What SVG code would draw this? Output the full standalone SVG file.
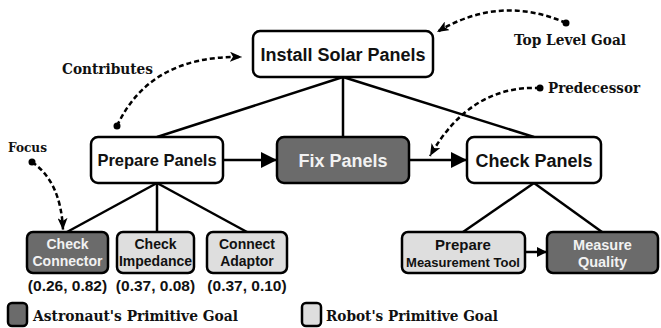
<svg xmlns="http://www.w3.org/2000/svg" width="661" height="328" viewBox="0 0 661 328">
<defs>
<style>
.box{stroke:#000;stroke-width:2.5}
.w{fill:#fff}
.d{fill:#6b6b6b}
.l{fill:#dedede}
.t{font-family:"Liberation Sans",Arial,sans-serif;font-weight:bold;text-anchor:middle;fill:#111}
.tw{font-family:"Liberation Sans",Arial,sans-serif;font-weight:bold;text-anchor:middle;fill:#f2f2f2}
.s{font-family:"DejaVu Serif",serif;font-weight:bold;fill:#111}
.ln{stroke:#000;stroke-width:2.5;fill:none}
.ds{stroke:#000;stroke-width:2.5;fill:none;stroke-dasharray:5 3}
</style>
<marker id="big" viewBox="0 0 16 16" refX="16" refY="8" markerWidth="16" markerHeight="16" markerUnits="userSpaceOnUse" orient="auto"><path d="M0,0 L16,8 L0,16 Z" fill="#000"/></marker>
<marker id="sm" viewBox="0 0 10 10" refX="10" refY="5" markerWidth="10" markerHeight="10" markerUnits="userSpaceOnUse" orient="auto"><path d="M0,0 L10,5 L0,10 Z" fill="#000"/></marker>
<marker id="da" viewBox="0 0 12 10" refX="12" refY="5" markerWidth="12" markerHeight="10" markerUnits="userSpaceOnUse" orient="auto"><path d="M0,0 L12,5 L0,10 L3,5 Z" fill="#000"/></marker>
</defs>
<g id="connectors">
<line class="ln" x1="343" y1="77" x2="157" y2="137"/>
<line class="ln" x1="343" y1="77" x2="343" y2="137"/>
<line class="ln" x1="343" y1="77" x2="534" y2="137"/>
<line class="ln" x1="157" y1="183" x2="67" y2="232"/>
<line class="ln" x1="157" y1="183" x2="157" y2="232"/>
<line class="ln" x1="157" y1="183" x2="247" y2="232"/>
<line class="ln" x1="534" y1="183" x2="463" y2="232"/>
<line class="ln" x1="534" y1="183" x2="602" y2="232"/>
<line class="ln" x1="223" y1="160" x2="277" y2="160" marker-end="url(#big)"/>
<line class="ln" x1="409" y1="160" x2="467" y2="160" marker-end="url(#big)"/>
<line class="ln" x1="525" y1="252" x2="547" y2="252" marker-end="url(#sm)"/>
<path class="ds" d="M566,23 Q500,-6 437,32" marker-end="url(#da)"/>
<path class="ds" d="M117,126 Q150,55 242,57" marker-end="url(#da)"/>
<path class="ds" d="M540,88 Q470,85 430,156" marker-end="url(#da)"/>
<path class="ds" d="M32,162 Q61,182 63,230" marker-end="url(#da)"/>
<circle cx="566" cy="23" r="3.5" fill="#000"/>
<circle cx="117" cy="126" r="3.5" fill="#000"/>
<circle cx="540" cy="88" r="3.5" fill="#000"/>
<circle cx="32" cy="162" r="3.5" fill="#000"/>
</g>
<g id="install">
<rect class="box w" x="253" y="31" width="180" height="46" rx="7"/>
<text class="t" x="343" y="60.5" font-size="18">Install Solar Panels</text>
</g>
<g id="prepare">
<rect class="box w" x="91" y="137" width="132" height="46" rx="7"/>
<text class="t" x="157" y="166" font-size="16.5">Prepare Panels</text>
</g>
<g id="fix">
<rect class="box d" x="277" y="137" width="132" height="46" rx="7"/>
<text class="tw" x="343" y="166.5" font-size="18">Fix Panels</text>
</g>
<g id="check">
<rect class="box w" x="467" y="137" width="134" height="46" rx="7"/>
<text class="t" x="534" y="166.5" font-size="18">Check Panels</text>
</g>
<g id="checkConnector">
<rect class="box d" x="27" y="232" width="81" height="41" rx="6"/>
<text class="tw" font-size="14"><tspan x="67.5" y="249">Check</tspan><tspan x="67.5" y="266">Connector</tspan></text>
</g>
<g id="checkImpedance">
<rect class="box l" x="117" y="232" width="77" height="41" rx="6"/>
<text class="t" font-size="14"><tspan x="155.5" y="249">Check</tspan><tspan x="155.5" y="266">Impedance</tspan></text>
</g>
<g id="connectAdaptor">
<rect class="box l" x="207" y="232" width="80" height="41" rx="6"/>
<text class="t" font-size="14"><tspan x="247" y="249">Connect</tspan><tspan x="247" y="266">Adaptor</tspan></text>
</g>
<g id="prepareTool">
<rect class="box l" x="402" y="232" width="123" height="41" rx="6"/>
<text class="t"><tspan x="463" y="250" font-size="15">Prepare</tspan><tspan x="463" y="267" font-size="13">Measurement Tool</tspan></text>
</g>
<g id="measureQuality">
<rect class="box d" x="547" y="232" width="111" height="41" rx="6"/>
<text class="tw" font-size="14.5"><tspan x="602.5" y="250">Measure</tspan><tspan x="602.5" y="267">Quality</tspan></text>
</g>
<g id="values">
<text class="t" x="67.5" y="290.5" font-size="15.5">(0.26, 0.82)</text>
<text class="t" x="155.5" y="290.5" font-size="15.5">(0.37, 0.08)</text>
<text class="t" x="247" y="290.5" font-size="15.5">(0.37, 0.10)</text>
</g>
<g id="labels">
<text class="s" x="514" y="44.5" font-size="14" textLength="112" lengthAdjust="spacingAndGlyphs">Top Level Goal</text>
<text class="s" x="62" y="74" font-size="14" textLength="91" lengthAdjust="spacingAndGlyphs">Contributes</text>
<text class="s" x="548" y="93" font-size="14" textLength="92" lengthAdjust="spacingAndGlyphs">Predecessor</text>
<text class="s" x="8" y="151.5" font-size="13" textLength="39" lengthAdjust="spacingAndGlyphs">Focus</text>
</g>
<g id="legend">
<rect class="box d" x="8" y="303" width="19" height="23" rx="4"/>
<text class="s" x="33" y="321" font-size="15" textLength="205" lengthAdjust="spacingAndGlyphs">Astronaut's Primitive Goal</text>
<rect class="box l" x="302" y="303" width="19" height="23" rx="4"/>
<text class="s" x="326" y="321" font-size="15" textLength="172" lengthAdjust="spacingAndGlyphs">Robot's Primitive Goal</text>
</g>
</svg>
